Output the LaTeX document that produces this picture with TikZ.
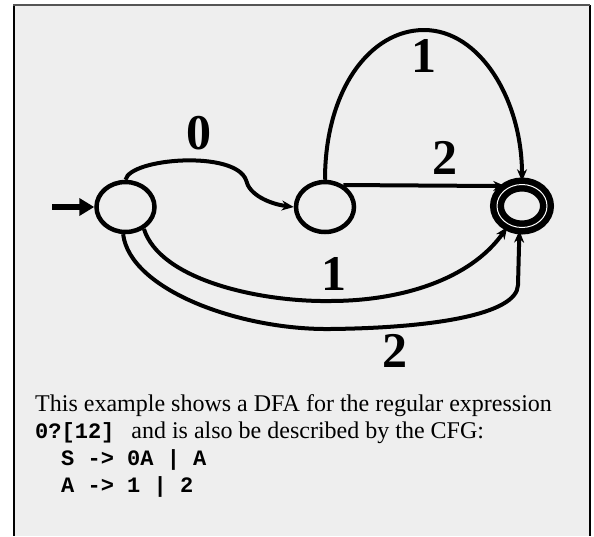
\documentclass[tikz,border=0pt]{standalone}
\usepackage{fontspec}
\setmainfont{Liberation Serif}
\newfontfamily\codefont{Liberation Mono}
\usetikzlibrary{arrows.meta,shapes.geometric}
\definecolor{DFAPanel}{HTML}{EEEEEE}
\definecolor{DFAFrame}{HTML}{555555}

\begin{document}
\begin{tikzpicture}[
      x=1pt,y=-1pt,
      >={Stealth[length=12pt,width=10pt]},
      dfastate/.style={ellipse,draw,line width=4.5pt,minimum width=58pt,minimum height=50pt,inner sep=0pt},
      acceptstate/.style={ellipse,draw,line width=6.5pt,double=white,double distance=1pt,minimum width=50pt,minimum height=43pt,inner sep=0pt},
      trans/.style={->,line width=4pt},
      sym/.style={font=\fontsize{50}{50}\selectfont\bfseries,inner sep=0pt},
      txt/.style={anchor=base west,inner sep=0pt,font=\fontsize{24}{27}\selectfont},
      code/.style={anchor=base west,inner sep=0pt,font=\fontsize{22}{27}\selectfont\codefont\bfseries}
    ]
    \useasboundingbox (0,0) rectangle (594,536);
    \fill[DFAPanel] (14,5) rectangle (589,536);
    \draw[line width=2pt] (13.5,5) -- (13.5,536);
    \draw[line width=2pt] (589.5,5) -- (589.5,536);
    \draw[line width=1.5pt,DFAFrame] (13,5) -- (590,5);

    \node[dfastate] (q0) at (125.5,207) {};
    \node[dfastate] (q1) at (325,207) {};
    \node[acceptstate] (q2) at (522,206) {};
    \coordinate (entry) at (52,207);
    \draw[line width=6pt,-{Triangle[length=15pt,width=17pt]}] (entry) -- (q0.west);

    \draw[trans] (q0.north) .. controls (130,158) and (235,150) .. (246,180)
      .. controls (249,195) and (270,204) .. (q1.west);
    \draw[trans] (q1.north) .. controls (325,90) and (370,30) .. (424,30)
      .. controls (480,30) and (522,100) .. (q2.north);
    \draw[trans] (q1.50) -- (q2.130);
    \draw[trans] (q0.-50) .. controls (160,280) and (260,302) .. (330,301)
      .. controls (400,301) and (470,280) .. (q2.-125);
    \draw[trans] (q0.-95) .. controls (130,290) and (240,330) .. (330,329)
      .. controls (430,328) and (517,315) .. (518,285) -- (q2.-96);

    \node[sym] (l0) at (199,133) {0};
    \node[sym] (l1top) at (424,56) {1};
    \node[sym] (l2mid) at (445,158) {2};
    \node[sym] (l1low) at (334,274) {1};
    \node[sym] (l2low) at (395,351) {2};

    \node[txt] (line1) at (35,411) {This example shows a DFA for the regular expression};
    \node[txt] (line2) at (35,438) {{\codefont\bfseries\fontsize{22}{27}\selectfont 0?[12]}\hspace{17pt}and is also be described by the CFG:};
    \node[code] (line3) at (61,465) {S -> 0A | A};
    \node[code] (line4) at (61,492) {A -> 1 | 2};
  \end{tikzpicture}
\end{document}
